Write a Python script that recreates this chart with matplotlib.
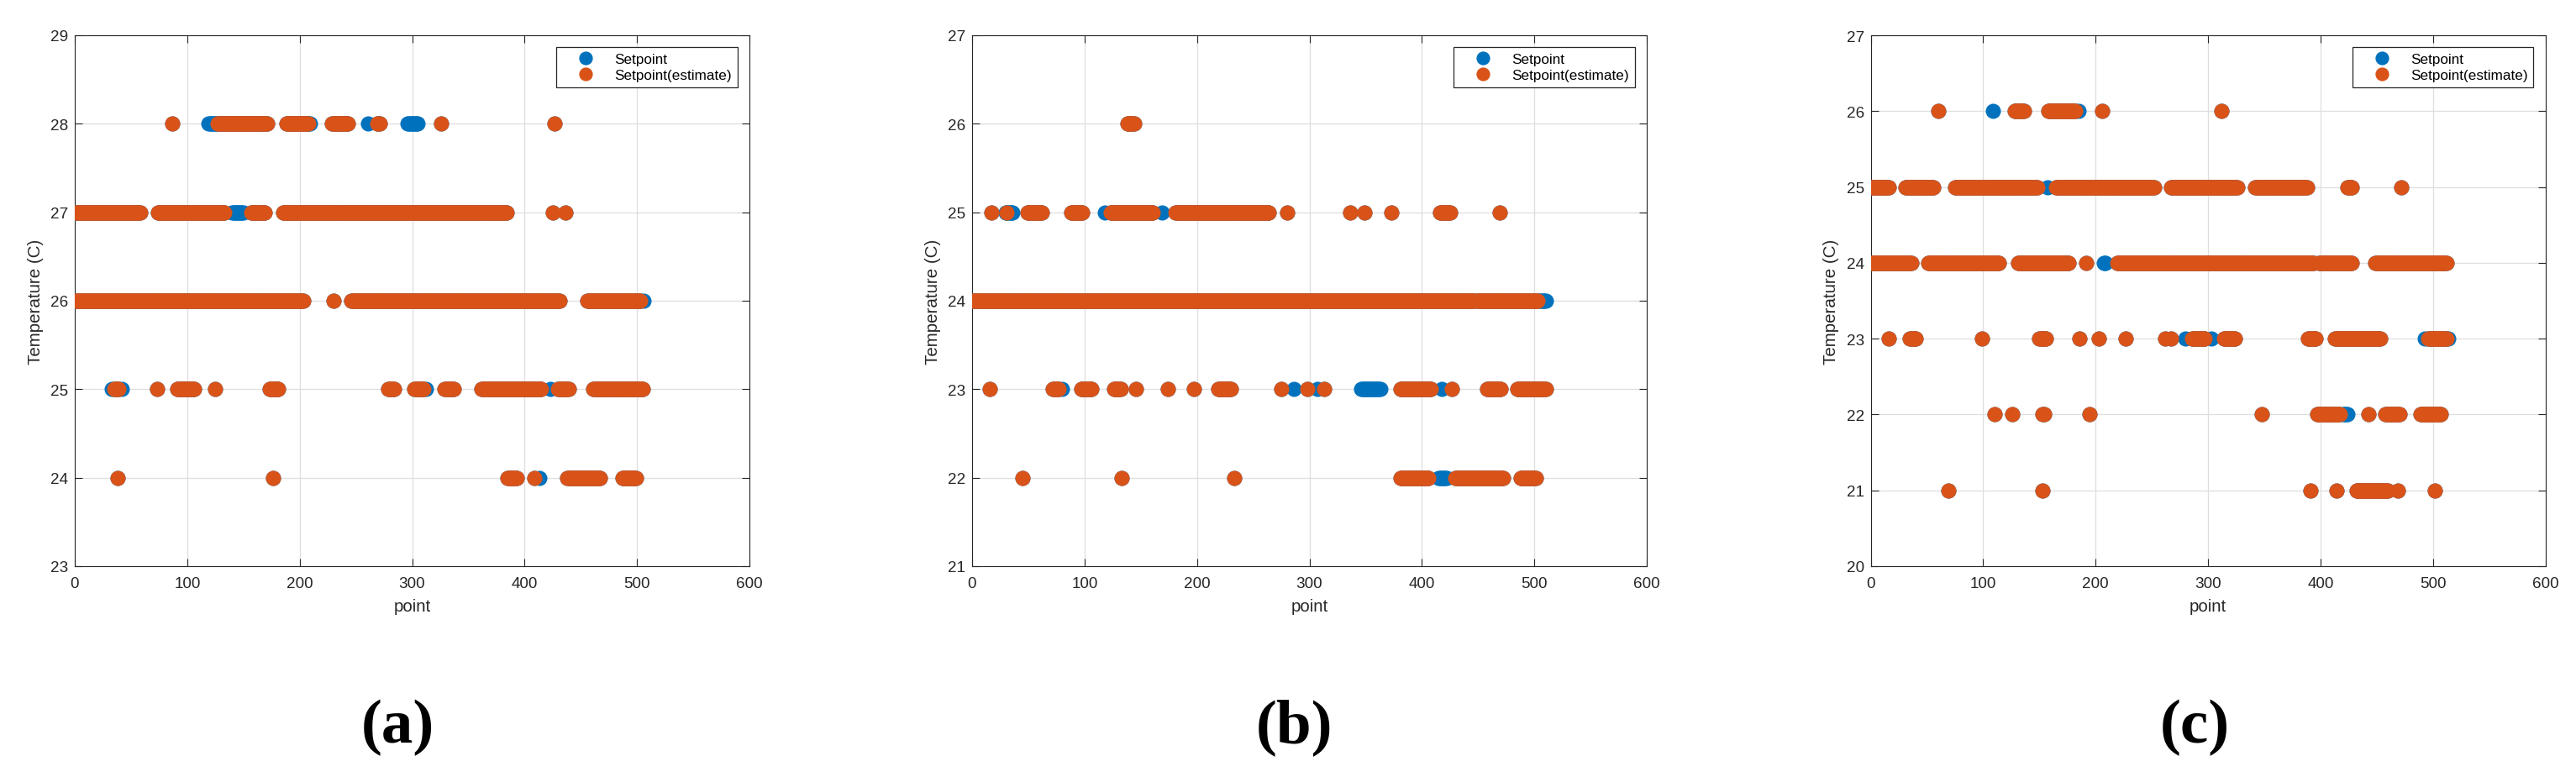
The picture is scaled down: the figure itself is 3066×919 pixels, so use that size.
import numpy as np
import matplotlib
matplotlib.use("Agg")
import matplotlib.pyplot as plt
from matplotlib.lines import Line2D

plt.rcParams['font.family'] = ['Liberation Sans', 'DejaVu Sans']

# ---------------- data (runs of point indices (start, end) at each level) -------------
x_ticks = [0, 100, 200, 300, 400, 500, 600]
captions = ["(a)", "(b)", "(c)"]
ylims = [(23, 29), (21, 27), (20, 27)]
series_names = ["Setpoint", "Setpoint(estimate)"]

# panel (a)
est_a = {
    28: [(87, 87), (127, 171), (188, 208), (229, 243), (269, 271), (326, 326), (427, 427)],
    27: [(1, 58), (74, 133), (157, 169), (185, 384), (425, 425), (436, 436)],
    26: [(1, 203), (230, 230), (246, 431), (456, 503)],
    25: [(35, 39), (73, 73), (91, 106), (125, 125), (173, 181), (279, 284), (302, 310),
         (329, 337), (362, 415), (430, 439), (461, 505)],
    24: [(38, 38), (176, 176), (385, 393), (409, 409), (438, 467), (487, 499)],
}
sp_only_a = {
    28: [(119, 127), (205, 209), (261, 261), (296, 305)],
    27: [(1, 1), (140, 150)],
    26: [(506, 506)],
    25: [(33, 33), (42, 42), (312, 312), (423, 423)],
    24: [(413, 413)],
}

# panel (b)
est_b = {
    26: [(138, 144)],
    25: [(17, 17), (31, 31), (49, 62), (88, 98), (123, 161), (181, 264), (280, 280),
         (336, 336), (349, 349), (373, 373), (416, 425), (469, 469)],
    24: [(1, 446), (449, 503)],
    23: [(16, 16), (72, 77), (97, 106), (126, 132), (146, 146), (174, 174), (197, 197),
         (219, 230), (275, 275), (298, 298), (313, 313), (381, 408), (427, 427),
         (458, 470), (485, 510)],
    22: [(45, 45), (133, 133), (233, 233), (381, 406), (430, 472), (488, 501)],
}
sp_only_b = {
    25: [(30, 36), (118, 118), (129, 129), (169, 169)],
    24: [(505, 510)],
    23: [(80, 80), (286, 286), (307, 307), (346, 363), (418, 418)],
    22: [(415, 422)],
}

# panel (c)
est_c = {
    26: [(60, 60), (128, 136), (158, 182), (206, 206), (312, 312)],
    25: [(1, 16), (31, 56), (75, 148), (165, 252), (267, 326), (342, 388), (424, 428),
         (472, 472)],
    24: [(1, 36), (51, 114), (131, 176), (192, 192), (219, 394), (399, 428), (449, 512)],
    23: [(16, 16), (35, 40), (99, 99), (150, 156), (186, 186), (203, 203), (227, 227),
         (262, 262), (267, 267), (286, 297), (314, 324), (389, 396), (413, 453),
         (496, 512)],
    22: [(110, 110), (126, 126), (153, 154), (195, 195), (348, 348), (397, 417),
         (443, 443), (458, 470), (489, 507)],
    21: [(69, 69), (153, 153), (391, 391), (414, 414), (432, 460), (469, 469), (502, 502)],
}
sp_only_c = {
    26: [(109, 109), (185, 185)],
    25: [(1, 1), (157, 157), (320, 320)],
    24: [(207, 209)],
    23: [(280, 280), (303, 303), (493, 493), (514, 514)],
    22: [(420, 424)],
}

panels = [(est_a, sp_only_a), (est_b, sp_only_b), (est_c, sp_only_c)]

# ---------------- style ----------------
BLUE = "#0072BD"
ORANGE = "#D95319"
AXC = "#262626"
GRIDC = "#dedede"
MS = 13.0


def expand(*run_dicts):
    xs, ys = [], []
    for d in run_dicts:
        for level, runs in d.items():
            for s, e in runs:
                idx = np.arange(s, e + 1)
                xs.append(idx)
                ys.append(np.full(idx.shape, level, dtype=float))
    if not xs:
        return np.array([]), np.array([])
    return np.concatenate(xs), np.concatenate(ys)


W, H = 3066, 920
fig = plt.figure(figsize=(W / 100, H / 100), dpi=100)

lefts = [89, 1157, 2226.5]
ax_w = 803
ax_top, ax_bot = 43, 675
cap_x = [473, 1540, 2612]
cap_y = 866

for i, (est, sp_only) in enumerate(panels):
    ax = fig.add_axes([lefts[i] / W, 1 - ax_bot / H, ax_w / W, (ax_bot - ax_top) / H])
    bx, by = expand(est, sp_only)
    ox, oy = expand(est)
    ax.plot(bx, by, linestyle="none", marker="o", ms=MS, mew=0, color=BLUE, zorder=3)
    ax.plot(ox, oy, linestyle="none", marker="o", ms=MS, mew=0, color=ORANGE, zorder=4)

    ax.set_xlim(0, 600)
    ax.set_ylim(*ylims[i])
    ax.set_xticks(x_ticks)
    ax.set_yticks(np.arange(ylims[i][0], ylims[i][1] + 1))
    ax.grid(True, color=GRIDC, linewidth=0.9, zorder=0)
    ax.set_axisbelow(True)
    for sp in ax.spines.values():
        sp.set_color(AXC)
        sp.set_linewidth(0.8)
    ax.tick_params(direction="in", top=True, right=True, length=6.3, width=0.8,
                   colors=AXC, labelsize=13.6)
    ax.tick_params(axis="x", pad=9)
    ax.tick_params(axis="y", pad=5.5)
    ax.set_xlabel("point", fontsize=14.8, color=AXC, labelpad=6)
    ax.set_ylabel("Temperature (C)", fontsize=14.8, color=AXC, labelpad=6)

    handles = [Line2D([], [], linestyle="none", marker="o", ms=MS * 0.9, mew=0, color=BLUE),
               Line2D([], [], linestyle="none", marker="o", ms=MS * 0.9, mew=0, color=ORANGE)]
    leg = ax.legend(handles, series_names, loc="upper right",
                    bbox_to_anchor=((877.7 - 89) / ax_w, (ax_bot - 57.3) / (ax_bot - ax_top)),
                    borderaxespad=0, fontsize=12.3, frameon=True, fancybox=False,
                    edgecolor=AXC, framealpha=1, borderpad=0.4, labelspacing=0.25,
                    handlelength=3.3, handletextpad=0.35, numpoints=1)
    leg.get_frame().set_linewidth(0.9)

    fig.text(cap_x[i] / W, 1 - cap_y / H, captions[i], ha="center", va="center",
             fontsize=54, fontweight="bold", family=["Liberation Serif", "DejaVu Serif"])

fig.savefig("out.png", dpi=100)
